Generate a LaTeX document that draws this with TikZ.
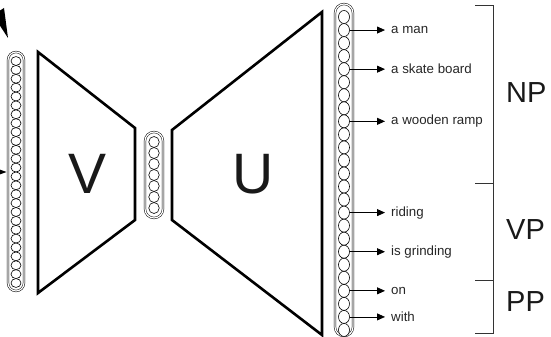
\documentclass[tikz,border=0pt]{standalone}
\usepackage{fontspec}
\setmainfont{Liberation Sans}
\usetikzlibrary{arrows.meta,shapes.geometric}
\begin{document}
\begin{tikzpicture}[x=1pt,y=-1pt,
  pill/.style={draw=black, double=white, double distance=1.2pt, line width=0.5pt, inner sep=0pt},
  cell/.style={draw=black, ellipse, line width=0.6pt, inner sep=0pt, fill=white},
  trap/.style={draw=black, line width=2.6pt, line join=miter},
  conn/.style={draw=black, line width=0.8pt, -{Triangle[length=8pt,width=7pt]}},
  lbl/.style={anchor=west, inner xsep=6pt, inner ysep=0pt, font=\fontsize{13.3}{15}\selectfont, text=black!85},
  big/.style={font=\fontsize{57}{60}\selectfont, text=black!90},
  tag/.style={anchor=west, inner sep=0pt, font=\fontsize{29}{31}\selectfont, text=black!90},
  brk/.style={draw=black!80, line width=0.9pt}]
\useasboundingbox (0,0) rectangle (551,337);
\clip (0,0) rectangle (551,337);

% partial incoming arrows at the left edge
\fill[black] (-7,15) -- (4,8) -- (8,38) -- cycle;
\coordinate (inA) at (-30,172);
\coordinate (tipA) at (6.5,172);
\draw[line width=1pt, -{Triangle[length=10pt,width=7pt]}] (inA) -- (tipA);

% left pill
\node[pill, rounded corners=8pt, minimum width=16pt, minimum height=239pt] (lp) at (16,171.5) {};
\foreach \k in {1,...,26} {
  \node[cell, minimum width=10pt, minimum height=8.9pt] (l\k) at (16,{61+(\k-1)*8.88}) {};
}

% encoder V
\draw[trap] (38,52) -- (135,128) -- (135,220) -- (38,293) -- cycle;
\node[big] (V) at (88,174) {V};

% middle pill
\node[pill, rounded corners=9pt, minimum width=18pt, minimum height=86pt] (mp) at (154,175) {};
\foreach \k in {1,...,7} {
  \node[cell, minimum width=10.5pt, minimum height=11pt] (m\k) at (154,{142+(\k-1)*11}) {};
}

% decoder U
\draw[trap] (172,130) -- (322,12) -- (322,335) -- (172,220) -- cycle;
\node[big] (U) at (253,174) {U};

% right pill
\node[pill, rounded corners=9pt, minimum width=18pt, minimum height=332pt] (rp) at (344,170) {};
\foreach \k in {1,...,25} {
  \node[cell, minimum width=11pt, minimum height=13pt] (r\k) at (344,{17+(\k-1)*13.04}) {};
}

% output labels
\node[lbl] (t1) at (385,{17+1*13.04}) {a man};
\node[lbl] (t2) at (385,{17+4*13.04}) {a skate board};
\node[lbl] (t3) at (385,{17+8*13.04}) {a wooden ramp};
\node[lbl] (t4) at (385,{17+15*13.04}) {riding};
\node[lbl] (t5) at (385,{17+18*13.04}) {is grinding};
\node[lbl] (t6) at (385,{17+21*13.04}) {on};
\node[lbl] (t7) at (385,{17+23*13.04}) {with};
\draw[conn] (r2.east) -- (t1.west);
\draw[conn] (r5.east) -- (t2.west);
\draw[conn] (r9.east) -- (t3.west);
\draw[conn] (r16.east) -- (t4.west);
\draw[conn] (r19.east) -- (t5.west);
\draw[conn] (r22.east) -- (t6.west);
\draw[conn] (r24.east) -- (t7.west);

% bracket
\coordinate (b0) at (493,5);
\coordinate (b1) at (493,183);
\coordinate (b2) at (493,280);
\coordinate (b3) at (493,333);
\draw[brk] ([xshift=-18pt]b0) -- (b0) -- (b3) -- ([xshift=-18pt]b3);
\draw[brk] ([xshift=-18pt]b1) -- (b1);
\draw[brk] ([xshift=-18pt]b2) -- (b2);
\node[tag] (NP) at (506,93) {NP};
\node[tag] (VP) at (506,230) {VP};
\node[tag] (PP) at (506,302) {PP};
\end{tikzpicture}
\end{document}
